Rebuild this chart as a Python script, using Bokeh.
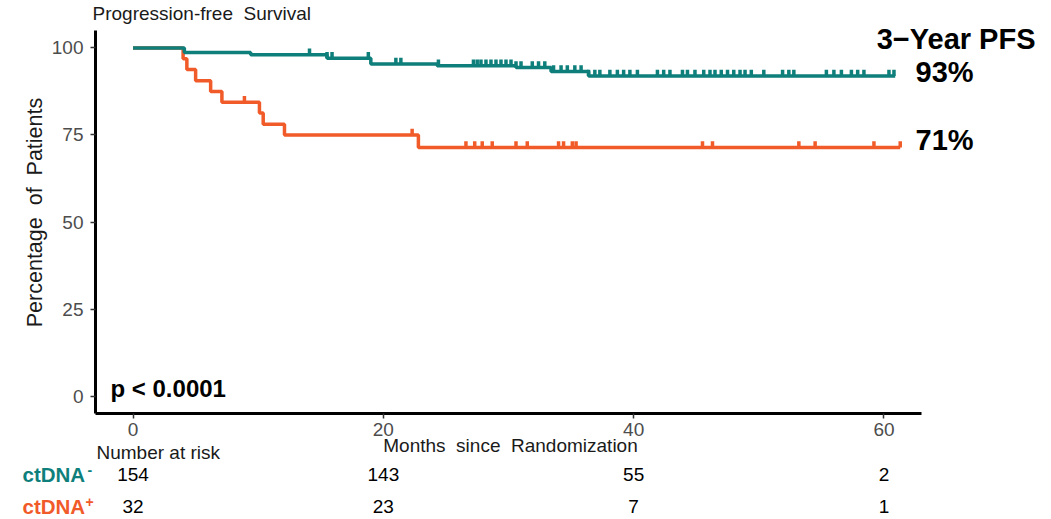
import numpy as np
from bokeh.plotting import figure
from bokeh.models import Range1d, FixedTicker, ColumnDataSource
from bokeh.core.properties import value
from bokeh.embed import file_html
from bokeh.resources import INLINE

# ---------------- data ----------------
neg_times = [0, 4.1, 9.4, 15.5, 19.0, 24.3, 30.6, 33.4, 36.4]
neg_surv = [100, 98.7, 98.0, 97.0, 95.4, 94.9, 94.4, 93.2, 91.9]
neg_end = 60.9
neg_censor = [14.1, 15.5, 15.9, 18.8, 21.0, 21.4, 24.4, 27.2, 27.5, 27.8, 28.2, 28.6,
              29.0, 29.4, 29.8, 30.2, 30.6, 31.0, 31.9, 32.4, 32.9, 33.6, 34.2, 34.7,
              35.3, 35.8, 36.4, 36.9, 37.3, 38.1, 38.7, 39.2, 39.7, 40.3, 41.9, 42.4,
              42.9, 43.9, 44.3, 44.9, 45.6, 46.1, 46.5, 47.0, 47.5, 48.0, 48.5, 48.9,
              49.4, 50.4, 51.9, 52.4, 52.8, 55.4, 56.0, 56.6, 57.4, 57.9, 58.4, 60.4, 60.8]

pos_times = [0, 4.0, 4.3, 5.0, 6.2, 7.1, 10.1, 10.4, 12.1, 22.8]
pos_surv = [100, 96.9, 93.8, 90.6, 87.5, 84.4, 81.3, 78.1, 75.0, 71.4]
pos_end = 61.3
pos_censor = [8.9, 22.3, 26.6, 27.3, 27.9, 28.7, 30.6, 31.5, 34.0, 34.4, 35.1, 35.4,
              45.5, 46.3, 53.2, 54.5, 59.2, 61.3]

risk_times = [0, 20, 40, 60]
risk_neg = [154, 143, 55, 2]
risk_pos = [32, 23, 7, 1]
x_ticks = [0, 20, 40, 60]
y_ticks = [0, 25, 50, 75, 100]
pfs_neg = "93%"
pfs_pos = "71%"

TEAL = "#0E7F7B"
ORANGE = "#F15A29"
FONT = "Liberation Sans"
SP2 = " \u00a0"   # visible double space

# ---------------- layout ----------------
W, H = 1051, 519
XA, XB, YA, YB = -3, 63, -5, 105          # axis extents (data)
AX_L, AX_R, AX_T, AX_B = 95, 921, 30, 413  # where the axes sit on the page
kx = (AX_R - AX_L) / (XB - XA)
ky = (AX_B - AX_T) / (YB - YA)


def dx(px):
    return XA + (px - AX_L) / kx


def dy(py):
    return YA + (AX_B - py) / ky


p = figure(width=W, height=H, output_backend="svg", toolbar_location=None,
           x_range=Range1d(dx(0), dx(W)), y_range=Range1d(dy(H), dy(0)),
           min_border=0)
p.outline_line_color = None
p.xgrid.visible = False
p.ygrid.visible = False
p.background_fill_color = "white"
p.border_fill_color = "white"

xa = p.xaxis[0]
ya = p.yaxis[0]
xa.fixed_location = YA
ya.fixed_location = XA
xa.bounds = (XA, XB)
ya.bounds = (YA, YB)
for ax, ticks in ((xa, x_ticks), (ya, y_ticks)):
    ax.ticker = FixedTicker(ticks=ticks)
    ax.axis_line_width = 3
    ax.axis_line_color = "black"
    ax.major_tick_line_color = "#333333"
    ax.major_tick_line_width = 1.5
    ax.major_tick_out = 5
    ax.major_tick_in = 0
    ax.minor_tick_line_color = None
    ax.major_label_text_font = FONT
    ax.major_label_text_font_size = "19px"
    ax.major_label_text_color = "#4D4D4D"
ya.major_label_standoff = 7
xa.major_label_standoff = 4


def curve(times, surv, end, censor, color):
    xs = list(times) + [end]
    ys = list(surv) + [surv[-1]]
    p.step(xs, ys, mode="after", line_width=3.5, line_color=color)
    t = np.asarray(times)
    s = np.asarray(surv)
    c = np.asarray(censor)
    lvl = s[np.searchsorted(t, c, side="right") - 1]
    p.segment(x0=c, y0=lvl, x1=c, y1=lvl + 1.8, line_width=3.5,
              line_color=color, line_cap="butt")


curve(pos_times, pos_surv, pos_end, pos_censor, ORANGE)
curve(neg_times, neg_surv, neg_end, neg_censor, TEAL)


def txt(text, px, py, size, align="left", bold=False, color="black", angle=0):
    p.text(x=[dx(px)], y=[dy(py)], text=[text], text_font=value(FONT),
           text_font_size=value(f"{size}px"), text_align=align,
           text_baseline="middle", angle=angle,
           text_font_style="bold" if bold else "normal", text_color=color)


txt("Progression-free" + SP2 + "Survival", 92, 13, 19, color="#1a1a1a")
txt("Percentage" + SP2 + "of" + SP2 + "Patients", 34, 212, 21.5, align="center",
    angle=np.pi / 2, color="#1a1a1a")
txt("Months" + SP2 + "since" + SP2 + "Randomization", 510, 445, 19, align="center",
    color="#1a1a1a")
txt("Number at risk", 96, 451.5, 19, color="#1a1a1a")
txt("p < 0.0001", 110, 387.5, 24, bold=True)
txt("3\u2212Year PFS", 1035, 38.5, 29, align="right", bold=True)
txt(pfs_neg, 915, 71, 29, bold=True)
txt(pfs_pos, 915, 139.5, 29, bold=True)

# number-at-risk table
row_y = (474, 505.5)
txt("ctDNA", 22, row_y[0], 20.5, bold=True, color=TEAL)
txt("-", 87, row_y[0] - 5, 14, bold=True, color=TEAL)
txt("ctDNA", 22, row_y[1], 20.5, bold=True, color=ORANGE)
txt("+", 85, row_y[1] - 4, 14, bold=True, color=ORANGE)

for counts, py in zip((risk_neg, risk_pos), row_y):
    src = ColumnDataSource(dict(x=risk_times, y=[dy(py)] * len(risk_times),
                                t=[str(v) for v in counts]))
    p.text(x="x", y="y", text="t", source=src, text_font=value(FONT),
           text_font_size=value("19px"), text_align="center",
           text_baseline="middle", text_color="black")

open("out.html", "w").write(file_html(p, INLINE))
